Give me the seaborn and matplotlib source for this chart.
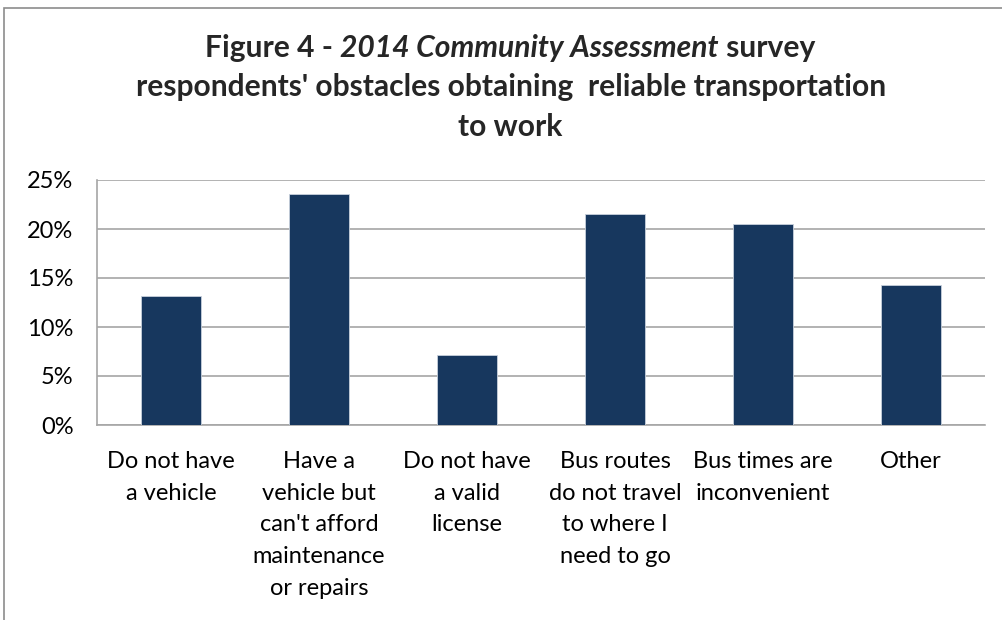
import matplotlib
matplotlib.use("Agg")
import matplotlib.pyplot as plt
import seaborn as sns
import pandas as pd
from matplotlib.patches import Rectangle
from matplotlib.ticker import PercentFormatter, MultipleLocator

categories = [
    "Do not have\na vehicle",
    "Have a\nvehicle but\ncan't afford\nmaintenance\nor repairs",
    "Do not have\na valid\nlicense",
    "Bus routes\ndo not travel\nto where I\nneed to go",
    "Bus times are\ninconvenient",
    "Other",
]
shares = [13.2, 23.6, 7.1, 21.5, 20.5, 14.3]

sns.set_theme(style="white")
plt.rcParams["font.family"] = ["Lato", "DejaVu Sans"]

df = pd.DataFrame({"category": categories, "share": shares})

fig = plt.figure(figsize=(10.03, 6.2), dpi=100)
ax = fig.add_axes([97 / 1003, 1 - 425 / 620, (985 - 97) / 1003, 245 / 620])

sns.barplot(data=df, x="category", y="share", color="#17375e", width=0.4,
            edgecolor="#c8d0dc", linewidth=0.6, saturation=1, ax=ax, zorder=3)

ax.set_ylim(0, 25)
ax.yaxis.set_major_locator(MultipleLocator(5))
ax.yaxis.set_major_formatter(PercentFormatter(decimals=0))
ax.grid(axis="y", color="#a6a6a6", linewidth=1.2, zorder=0)
ax.set_axisbelow(True)
for side in ("top", "right"):
    ax.spines[side].set_visible(False)
for side in ("left", "bottom"):
    ax.spines[side].set_color("#a6a6a6")
    ax.spines[side].set_linewidth(1.2)
ax.set_xlabel("")
ax.set_ylabel("")
ax.tick_params(axis="y", labelsize=17, colors="#000000", pad=17, length=0)
ax.tick_params(axis="x", labelsize=17, colors="#000000", pad=19, length=0)
for lbl in ax.get_xticklabels():
    lbl.set_linespacing(1.62)
    lbl.set_verticalalignment("top")

# outer chart frame
fig.patches.append(Rectangle((4 / 1003, -0.05), 1.2, 1 - 8 / 620 + 0.05,
                             transform=fig.transFigure, fill=False,
                             edgecolor="#8c8c8c", linewidth=1.2))

# title with an italic survey name in the first line
title_size = 21.6
renderer = fig.canvas.get_renderer()
pieces = [("Figure 4 - ", "normal"), ("2014 Community Assessment", "italic"),
          (" survey", "normal")]
texts = []
for s, st in pieces:
    t = fig.text(0, 1 - 48 / 620, s, fontsize=title_size, fontweight="bold",
                 fontstyle=st, ha="left", va="center")
    texts.append(t)
widths = [t.get_window_extent(renderer).width for t in texts]
x = 510 - sum(widths) / 2
for t, w in zip(texts, widths):
    t.set_x(x / 1003)
    x += w
fig.text(511 / 1003, 1 - 87 / 620,
         "respondents' obstacles obtaining  reliable transportation",
         fontsize=title_size, fontweight="bold", ha="center", va="center")
fig.text(510 / 1003, 1 - 127 / 620, "to work",
         fontsize=title_size, fontweight="bold", ha="center", va="center")

fig.savefig("out.png", dpi=100)
